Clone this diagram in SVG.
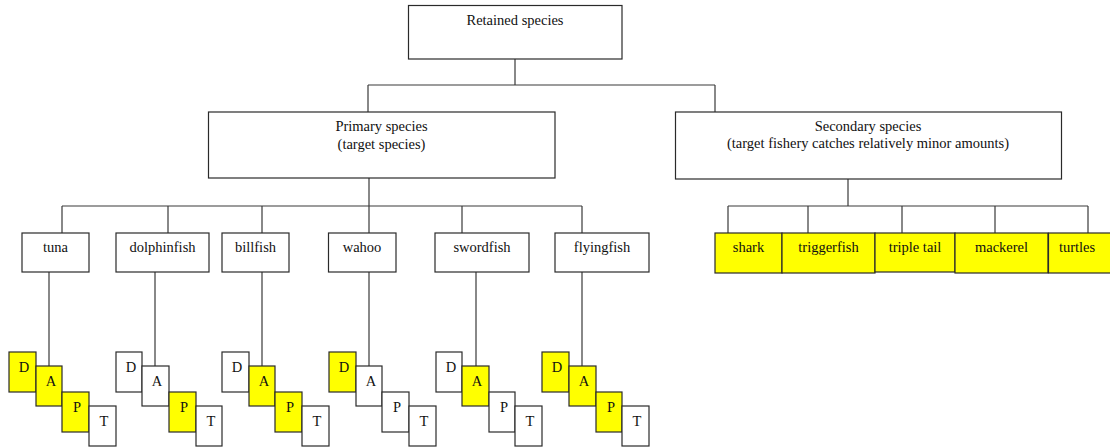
<svg xmlns="http://www.w3.org/2000/svg" width="1110" height="448" viewBox="0 0 1110 448">
  <style>
    .box { fill: #ffffff; stroke: #2a2a2a; stroke-width: 1.2; }
    .hl { fill: #ffff00; stroke: #2a2a2a; stroke-width: 1.2; }
    .wire { fill: none; stroke: #3a3a3a; stroke-width: 1.2; }
    text { font-family: "Liberation Serif", "Times New Roman", serif; font-size: 14.5px; fill: #111; text-anchor: middle; }
  </style>
  <rect width="1110" height="448" fill="#ffffff"/>

  <!-- connectors -->
  <g id="connectors" class="wire">
    <path d="M515,59 V85 M368,85 H715 M368,85 V112 M715,85 V112"/>
    <path d="M369,178 V206 M62,206 H582 M62,206 V233 M168,206 V233 M262,206 V233 M369,206 V233 M462,206 V233 M582,206 V233"/>
    <path d="M848,179 V206 M728,206 H1088 M728,206 V233 M808,206 V233 M902,206 V233 M995,206 V233 M1088,206 V233"/>
    <path d="M49,272 V366 M155,272 V366 M262,272 V366 M369,272 V366 M476,272 V366 M582,272 V366"/>
  </g>

  <!-- hierarchy -->
  <g id="retained">
    <rect class="box" x="408.5" y="5.5" width="213.5" height="53.5"/>
    <text x="515" y="25">Retained species</text>
  </g>
  <g id="primary">
    <rect class="box" x="208.5" y="112" width="346.5" height="66"/>
    <text x="381.5" y="131">Primary species</text>
    <text x="381.5" y="149">(target species)</text>
  </g>
  <g id="secondary">
    <rect class="box" x="675.5" y="112" width="386" height="67"/>
    <text x="868" y="131">Secondary species</text>
    <text x="868" y="148">(target fishery catches relatively minor amounts)</text>
  </g>

  <!-- primary species -->
  <g id="tuna"><rect class="box" x="22" y="233" width="67" height="39"/><text x="55.5" y="252">tuna</text></g>
  <g id="dolphinfish"><rect class="box" x="116" y="233" width="93" height="39"/><text x="162.5" y="252">dolphinfish</text></g>
  <g id="billfish"><rect class="box" x="222" y="233" width="67" height="39"/><text x="255.5" y="252">billfish</text></g>
  <g id="wahoo"><rect class="box" x="328.5" y="233" width="67.5" height="39"/><text x="362" y="252">wahoo</text></g>
  <g id="swordfish"><rect class="box" x="435" y="233" width="94" height="39"/><text x="482" y="252">swordfish</text></g>
  <g id="flyingfish"><rect class="box" x="555" y="233" width="94" height="39"/><text x="602" y="252">flyingfish</text></g>

  <!-- secondary species -->
  <g id="shark"><rect class="hl" x="715" y="233" width="67" height="40"/><text x="748.5" y="252">shark</text></g>
  <g id="triggerfish"><rect class="hl" x="782" y="233" width="93" height="40"/><text x="828.5" y="252">triggerfish</text></g>
  <g id="tripletail"><rect class="hl" x="875" y="233" width="80" height="39"/><text x="915" y="252">triple tail</text></g>
  <g id="mackerel"><rect class="hl" x="955" y="233" width="93" height="40"/><text x="1001.5" y="252">mackerel</text></g>
  <g id="turtles"><rect class="hl" x="1048.5" y="233" width="64" height="40"/><text x="1077" y="252">turtles</text></g>

  <!-- D/A/P/T status tiles -->
  <g id="tuna-dapt">
    <rect class="hl" x="9" y="352" width="27" height="40"/><text x="24" y="372">D</text>
    <rect class="hl" x="36" y="366" width="26" height="40"/><text x="51" y="386">A</text>
    <rect class="hl" x="62" y="392" width="27" height="40"/><text x="77" y="412">P</text>
    <rect class="box" x="89" y="406" width="27" height="40"/><text x="104" y="426">T</text>
  </g>
  <g id="dolphinfish-dapt">
    <rect class="box" x="116" y="352" width="26" height="40"/><text x="131" y="372">D</text>
    <rect class="box" x="142" y="366" width="27" height="40"/><text x="157" y="386">A</text>
    <rect class="hl" x="169" y="392" width="27" height="40"/><text x="184" y="412">P</text>
    <rect class="box" x="196" y="406" width="26" height="40"/><text x="211" y="426">T</text>
  </g>
  <g id="billfish-dapt">
    <rect class="box" x="222" y="352" width="27" height="40"/><text x="237" y="372">D</text>
    <rect class="hl" x="249" y="366" width="26" height="40"/><text x="264" y="386">A</text>
    <rect class="hl" x="275" y="392" width="27" height="40"/><text x="290" y="412">P</text>
    <rect class="box" x="302" y="406" width="27" height="40"/><text x="317" y="426">T</text>
  </g>
  <g id="wahoo-dapt">
    <rect class="hl" x="329" y="352" width="27" height="40"/><text x="344" y="372">D</text>
    <rect class="box" x="356" y="366" width="26" height="40"/><text x="371" y="386">A</text>
    <rect class="box" x="382" y="392" width="27" height="40"/><text x="397" y="412">P</text>
    <rect class="box" x="409" y="406" width="27" height="40"/><text x="424" y="426">T</text>
  </g>
  <g id="swordfish-dapt">
    <rect class="box" x="436" y="352" width="26" height="40"/><text x="451" y="372">D</text>
    <rect class="hl" x="462" y="366" width="27" height="40"/><text x="477" y="386">A</text>
    <rect class="box" x="489" y="392" width="26" height="40"/><text x="504" y="412">P</text>
    <rect class="box" x="515" y="406" width="27" height="40"/><text x="530" y="426">T</text>
  </g>
  <g id="flyingfish-dapt">
    <rect class="hl" x="542" y="352" width="27" height="40"/><text x="557" y="372">D</text>
    <rect class="hl" x="569" y="366" width="27" height="40"/><text x="584" y="386">A</text>
    <rect class="hl" x="596" y="392" width="26" height="40"/><text x="611" y="412">P</text>
    <rect class="box" x="622" y="406" width="27" height="40"/><text x="637" y="426">T</text>
  </g>
</svg>
